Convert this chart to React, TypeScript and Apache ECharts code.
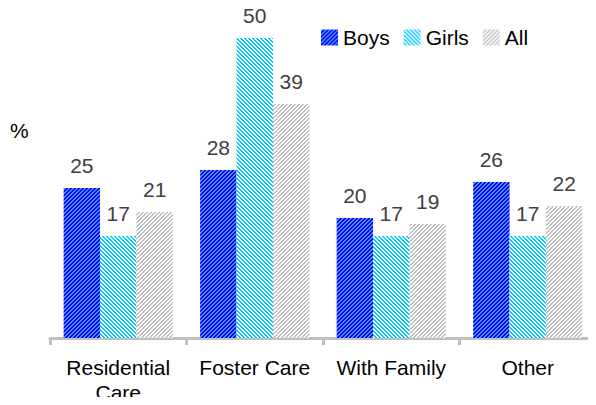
import React, { useEffect, useRef } from "react";
import * as echarts from "echarts";

const categories = ["Residential\nCare", "Foster Care", "With Family", "Other"];
const boys = [25, 28, 20, 26];
const girls = [17, 50, 17, 17];
const all = [21, 39, 19, 22];
const seriesNames = ["Boys", "Girls", "All"];

function makePattern(base: string, stripe: string, dir: "/" | "\\") {
  const size = 8;
  const c = document.createElement("canvas");
  c.width = size;
  c.height = size;
  const ctx = c.getContext("2d")!;
  ctx.fillStyle = base;
  ctx.fillRect(0, 0, size, size);
  ctx.fillStyle = stripe;
  for (let y = 0; y < size; y++) {
    for (let x = 0; x < size; x++) {
      const k = dir === "/" ? (x + y) % 4 : (((x - y) % 4) + 4) % 4;
      if (k < 2) ctx.fillRect(x, y, 1, 1);
    }
  }
  return { image: c, repeat: "repeat", imageWidth: size, imageHeight: size } as any;
}

export default function App() {
  const ref = useRef<HTMLDivElement>(null);
  useEffect(() => {
    if (!ref.current) return;
    const chart = echarts.init(ref.current, undefined, { renderer: "svg" });
    const font = "'Liberation Sans', Arial, sans-serif";
    const patterns = [
      makePattern("#0000ff", "#4a90ff", "/"),
      makePattern("#00ccff", "#ffffff", "\\"),
      makePattern("#c0c0c0", "#ffffff", "/"),
    ];
    const dataSets = [boys, girls, all];
    chart.setOption({
      animation: false,
      textStyle: { fontFamily: font },
      grid: { left: 50, right: -1, top: 38, bottom: 60, containLabel: false },
      legend: {
        left: 321,
        top: 27,
        padding: 0,
        itemWidth: 17,
        itemHeight: 16,
        itemGap: 14,
        icon: "rect",
        textStyle: { fontSize: 21, color: "#000", fontFamily: font },
        data: seriesNames,
      },
      graphic: [
        {
          type: "text",
          left: 10,
          top: 120,
          style: { text: "%", fontSize: 21, fill: "#000", fontFamily: font },
        },
      ],
      xAxis: {
        type: "category",
        data: categories,
        axisLine: { lineStyle: { color: "#bfbfbf", width: 3 } },
        axisTick: {
          show: true,
          alignWithLabel: false,
          length: 7,
          lineStyle: { color: "#bfbfbf", width: 3 },
        },
        axisLabel: {
          fontSize: 21,
          color: "#000",
          margin: 17,
          lineHeight: 25,
          fontFamily: font,
          interval: 0,
        },
      },
      yAxis: {
        type: "value",
        min: 0,
        max: 50,
        show: false,
      },
      series: seriesNames.map((name, i) => ({
        name,
        type: "bar",
        data: dataSets[i],
        barGap: "0%",
        barCategoryGap: "20%",
        itemStyle: { color: patterns[i] },
        label: {
          show: true,
          position: "top",
          distance: 12,
          fontSize: 21,
          color: "#404040",
          fontFamily: font,
        },
      })),
    });
    return () => chart.dispose();
  }, []);
  return <div ref={ref} style={{ width: 596, height: 405, margin: -8 }} />;
}
